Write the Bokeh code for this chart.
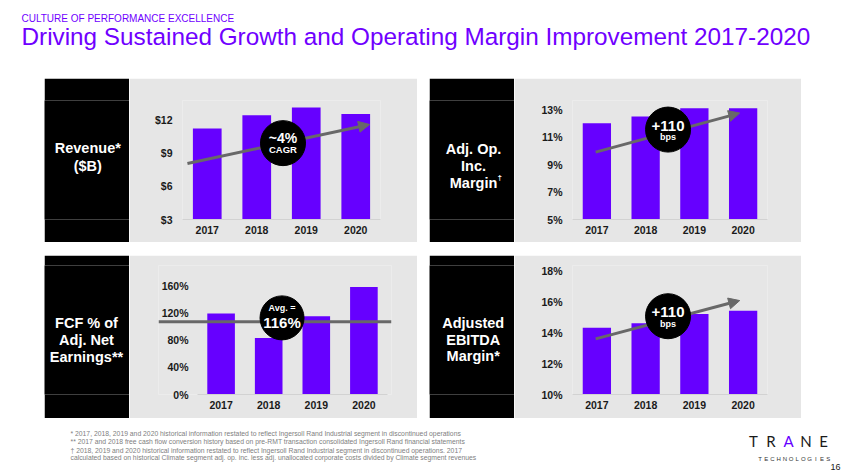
from bokeh.plotting import figure
from bokeh.layouts import column, row
from bokeh.models import (Range1d, FactorRange, FixedTicker, PrintfTickFormatter,
                          Arrow, NormalHead, Spacer, Span)
from bokeh.core.properties import value
from bokeh.embed import file_html
from bokeh.resources import INLINE

FONT = "Liberation Sans"
PURPLE = "#6600ff"
TITLE_PURPLE = "#7000ff"
PANEL_GRAY = "#e6e6e6"
ARROW_GRAY = "#686868"
TICK_COLOR = "#1a1a1a"

# ---------------- data ----------------
years = ["2017", "2018", "2019", "2020"]

revenue = [11.2, 12.4, 13.1, 12.5]          # $B
revenue_ticks = [3, 6, 9, 12]
revenue_trend_x = [0.10, 3.78]
revenue_trend_y = [8.05, 11.56]
revenue_badge = [2.03, 9.88]
revenue_badge_text = ["~4%", "CAGR"]

op_margin = [12.0, 12.5, 13.1, 13.1]        # %
op_margin_ticks = [5, 7, 9, 11, 13]
op_trend_x = [0.475, 3.43]
op_trend_y = [9.9, 12.74]
op_badge = [1.96, 11.54]
op_badge_text = ["+110", "bps"]

fcf_pct = [119, 83, 115, 158]               # %
fcf_ticks = [0, 40, 80, 120, 160]
fcf_avg_level = 107
fcf_avg_x = [-0.815, 4.08]                  # extent of the average line (category units)
fcf_badge = [1.78, 112.5]
fcf_badge_text = ["Avg. =", "116%"]

ebitda_margin = [14.3, 14.6, 15.2, 15.4]    # %
ebitda_ticks = [10, 12, 14, 16, 18]
ebitda_trend_x = [0.475, 3.43]
ebitda_trend_y = [13.59, 16.06]
ebitda_badge = [1.96, 15.05]
ebitda_badge_text = ["+110", "bps"]

header_kicker = "CULTURE OF PERFORMANCE EXCELLENCE"
header_title = "Driving Sustained Growth and Operating Margin Improvement 2017-2020"
footnotes = [
    "* 2017, 2018, 2019 and 2020 historical information restated to reflect Ingersoll Rand Industrial segment in discontinued operations",
    "** 2017 and 2018 free cash flow conversion history based on pre-RMT transaction consolidated Ingersoll Rand financial statements",
    "\u2020  2018, 2019 and 2020 historical information restated to reflect Ingersoll Rand Industrial segment in discontinued operations. 2017",
    "calculated based on historical Climate segment adj. op. inc. less adj. unallocated corporate costs divided by Climate segment revenues",
]
logo_letters = ["T", "R", "A", "N", "E"]
logo_sub = list("TECHNOLOGIES")
page_number = "16"

F = value(FONT)


def canvas(w, h, bg, top=0, bottom=0):
    # y range in local pixels; frame of a plot in a row is aligned with its neighbours
    p = figure(width=w, height=h, x_range=Range1d(0, w), y_range=Range1d(h - bottom, top),
               title=None, toolbar_location=None, output_backend="svg",
               x_axis_location=None, y_axis_location=None, min_border=0,
               min_border_top=top, min_border_bottom=bottom,
               background_fill_color=bg, border_fill_color=bg, outline_line_color=None)
    p.grid.visible = False
    return p


def label_panel(h, lines, ys, cx, top, bottom, size="14.5px", dagger=None):
    p = canvas(85, h, "black", top, bottom)
    p.text(x=[cx] * len(lines), y=ys, text=lines, text_align="center", text_baseline="middle",
           text_font=F, text_font_size=size, text_font_style="bold", text_color="white")
    if dagger:
        p.text(x=[dagger[0]], y=[dagger[1]], text=["\u2020"], text_align="left",
               text_baseline="middle", text_font=F, text_font_size="8px",
               text_font_style="bold", text_color="white")
    return p


def style_axes(p, ticks, fmt, y_standoff=10):
    p.grid.visible = False
    ya = p.yaxis[0]
    ya.ticker = FixedTicker(ticks=ticks)
    ya.formatter = PrintfTickFormatter(format=fmt)
    ya.axis_line_color = None
    ya.major_tick_line_color = None
    ya.minor_tick_line_color = None
    ya.major_tick_out = 0
    ya.major_tick_in = 0
    ya.major_label_standoff = y_standoff
    xa = p.xaxis[0]
    xa.axis_line_color = "#d2d2d2"
    xa.axis_line_width = 1
    xa.major_tick_line_color = None
    xa.minor_tick_line_color = None
    xa.major_tick_out = 0
    xa.major_tick_in = 0
    xa.major_label_standoff = 6
    for a in (xa, ya):
        a.major_label_text_font = FONT
        a.major_label_text_font_size = "10.5px"
        a.major_label_text_font_style = "bold"
        a.major_label_text_color = TICK_COLOR


def chart(w, h, vals, ticks, ymin, ymax, fmt, borders):
    left, right, top, bottom = borders
    p = figure(width=w, height=h, x_range=FactorRange(*years), y_range=Range1d(ymin, ymax),
               title=None, toolbar_location=None, output_backend="svg",
               background_fill_color=PANEL_GRAY, border_fill_color=PANEL_GRAY,
               outline_line_color=None, min_border_left=left, min_border_right=right,
               min_border_top=top, min_border_bottom=bottom)
    p.vbar(x=years, top=vals, bottom=ymin, width=0.58, fill_color=PURPLE, line_color=None)
    style_axes(p, ticks, fmt)
    return p


def trend_arrow(p, xs, ys):
    p.add_layout(Arrow(x_start=xs[0], y_start=ys[0], x_end=xs[1], y_end=ys[1],
                       line_color=ARROW_GRAY, line_width=3,
                       end=NormalHead(size=11, fill_color=ARROW_GRAY, line_color=ARROW_GRAY)))


def badge(p, pos, texts, sizes, offsets, size_px=45):
    r = p.scatter(x=[pos[0]], y=[pos[1]], size=size_px, marker="circle",
                  fill_color="black", line_color="black")
    r.level = "overlay"
    for t, s, o in zip(texts, sizes, offsets):
        tr = p.text(x=[pos[0]], y=[pos[1]], text=[t], y_offset=o, text_align="center",
                    text_baseline="middle", text_font=F, text_font_size=s,
                    text_font_style="bold", text_color="white")
        tr.level = "overlay"


# ---------------- header ----------------
header = canvas(844, 78, "white")
header.text(x=[21], y=[18], text=[header_kicker], text_baseline="middle",
            text_font=F, text_font_size="10px", text_color=TITLE_PURPLE)
header.text(x=[21], y=[36], text=[header_title], text_baseline="middle",
            text_font=F, text_font_size="24.3px", text_color=TITLE_PURPLE)

# ---------------- row 1 (frames share top 22 / bottom 23) ----------------
R1_TOP, R1_BOT, R1_H = 22, 23, 164
R1_FRAME = R1_H - R1_TOP - R1_BOT
lab1 = label_panel(R1_H, ["Revenue*", "($B)"], [69.7, 87.7], 43.3, R1_TOP, R1_BOT)
ch1 = chart(288, R1_H, revenue, revenue_ticks, 3, 3 + R1_FRAME / 11.1, "$%d",
            (53, 37, R1_TOP, R1_BOT))
trend_arrow(ch1, revenue_trend_x, revenue_trend_y)
badge(ch1, revenue_badge, revenue_badge_text, ["14px", "9.5px"], [-5.3, 6.4])

lab2 = label_panel(R1_H, ["Adj. Op.", "Inc.", "Margin"], [70.3, 87, 104.3], 44, R1_TOP, R1_BOT,
                   dagger=(68, 98.5))
ch2 = chart(287, R1_H, op_margin, op_margin_ticks, 5, 5 + R1_FRAME / 13.75, "%d%%",
            (58, 34, R1_TOP, R1_BOT))
trend_arrow(ch2, op_trend_x, op_trend_y)
badge(ch2, op_badge, op_badge_text, ["15px", "9px"], [-4, 7])

# ---------------- row 2 (frames share top 10 / bottom 24) ----------------
R2_TOP, R2_BOT, R2_H = 10, 24, 163
R2_FRAME = R2_H - R2_TOP - R2_BOT
lab3 = label_panel(R2_H, ["FCF % of", "Adj. Net", "Earnings**"], [67.7, 84.3, 101], 42,
                   R2_TOP, R2_BOT)
x3 = [i + 0.5 for i in range(len(years))]
ch3 = figure(width=288, height=R2_H, x_range=Range1d(fcf_avg_x[0], fcf_avg_x[1]),
             y_range=Range1d(0, R2_FRAME / 0.681), title=None, toolbar_location=None,
             output_backend="svg",
             background_fill_color=PANEL_GRAY, border_fill_color=PANEL_GRAY,
             outline_line_color=None, min_border_left=29, min_border_right=26,
             min_border_top=R2_TOP, min_border_bottom=R2_BOT)
ch3.vbar(x=x3, top=fcf_pct, bottom=0, width=0.58, fill_color=PURPLE, line_color=None)
style_axes(ch3, fcf_ticks, "%d%%", y_standoff=-30)
ch3.xaxis[0].ticker = FixedTicker(ticks=x3)
ch3.xaxis[0].major_label_overrides = {x: y for x, y in zip(x3, years)}
ch3.xaxis[0].bounds = (0, len(years))
ch3.add_layout(Span(location=fcf_avg_level, dimension="width",
                    line_color=ARROW_GRAY, line_width=3))
badge(ch3, fcf_badge, fcf_badge_text, ["9px", "15px"], [-9.4, 5], size_px=44)

lab4 = label_panel(R2_H, ["Adjusted", "EBITDA", "Margin*"], [67.7, 84.3, 100.7], 43.7,
                   R2_TOP, R2_BOT)
ch4 = chart(287, R2_H, ebitda_margin, ebitda_ticks, 10, 10 + R2_FRAME / 15.5, "%d%%",
            (58, 34, R2_TOP, R2_BOT))
trend_arrow(ch4, ebitda_trend_x, ebitda_trend_y)
badge(ch4, ebitda_badge, ebitda_badge_text, ["15px", "9px"], [-4, 8])

# ---------------- footer ----------------
footer = canvas(844, 54, "white")
footer.text(x=[70] * 4, y=[15, 23, 31.5, 38.5], text=footnotes, text_baseline="middle",
            text_font=F, text_font_size="6.8px", text_color="#808080")
logo_x = [753 + 17.5 * i for i in range(len(logo_letters))]
footer.text(x=logo_x, y=[22] * 5, text=logo_letters, text_align="center", text_baseline="middle",
            text_font=value("Lato"), text_font_size="15px",
            text_color=["#1a1a1a", "#1a1a1a", PURPLE, "#1a1a1a", "#1a1a1a"])
sub_x = [759.5 + 6.2 * i for i in range(len(logo_sub))]
footer.text(x=sub_x, y=[40] * len(logo_sub), text=logo_sub, text_align="center",
            text_baseline="middle", text_font=F, text_font_size="6px", text_color="#333333")
footer.text(x=[840], y=[48.5], text=[page_number], text_align="right", text_baseline="middle",
            text_font=F, text_font_size="9px", text_color="#1a1a1a")

row1 = row(Spacer(width=44, height=R1_H), lab1, ch1, Spacer(width=12, height=R1_H), lab2, ch2)
row2 = row(Spacer(width=44, height=R2_H), lab3, ch3, Spacer(width=12, height=R2_H), lab4, ch4)
layout = column(header, row1, Spacer(width=844, height=13), row2, footer)

open("out.html", "w").write(file_html(layout, INLINE))
